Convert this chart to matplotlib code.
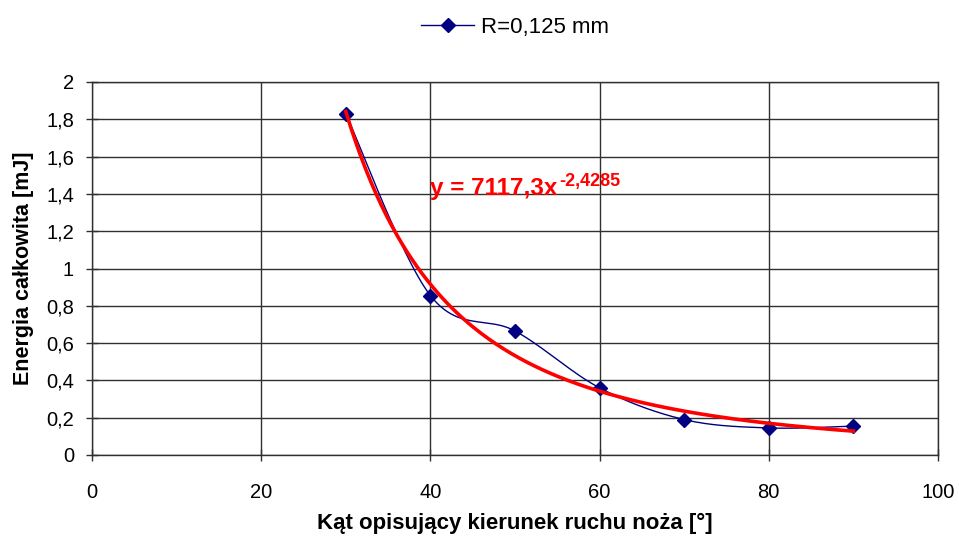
import numpy as np
import matplotlib
matplotlib.use('Agg')
import matplotlib.pyplot as plt

# measured points
angle = [30, 40, 50, 60, 70, 80, 90]
energy = [1.83, 0.855, 0.665, 0.36, 0.19, 0.145, 0.155]
series_label = 'R=0,125 mm'

# power trendline shown on the chart: y = a * x^b
fit_a = 7117.3
fit_b = -2.4285
fit_text = 'y = 7117,3x'
fit_exp = '-2,4285'

xticks = [0, 20, 40, 60, 80, 100]
yticks = [0, 0.2, 0.4, 0.6, 0.8, 1, 1.2, 1.4, 1.6, 1.8, 2]


def smooth_line(x, y, n=30, t=0.5):
	# excel-like smoothed line (catmull-rom through the points)
	x = np.asarray(x, float)
	y = np.asarray(y, float)
	px = np.concatenate([[x[0]], x, [x[-1]]])
	py = np.concatenate([[y[0]], y, [y[-1]]])
	xs = []
	ys = []
	for i in range(1, len(px) - 2):
		p0 = np.array([px[i-1], py[i-1]])
		p1 = np.array([px[i], py[i]])
		p2 = np.array([px[i+1], py[i+1]])
		p3 = np.array([px[i+2], py[i+2]])
		c1 = p1 + (p2 - p0) * t / 3.0
		c2 = p2 - (p3 - p1) * t / 3.0
		s = np.linspace(0, 1, n)[:, None]
		b = (1-s)**3*p1 + 3*(1-s)**2*s*c1 + 3*(1-s)*s**2*c2 + s**3*p2
		xs.extend(b[:, 0])
		ys.extend(b[:, 1])
	return np.array(xs), np.array(ys)


plt.rcParams['font.family'] = ['Liberation Sans', 'DejaVu Sans']

fig = plt.figure(figsize=(9.59, 5.4), dpi=100)
ax = fig.add_axes([92/959, 1-455/540, (938-92)/959, (455-82)/540])

sx, sy = smooth_line(angle, energy)
ax.plot(sx, sy, color='#000080', lw=1, zorder=3)
ax.plot(angle, energy, linestyle='none', marker='D', ms=7, color='#000080', zorder=4)
line_handle, = ax.plot([], [], color='#000080', lw=1, marker='D', ms=7)

fx = np.linspace(angle[0], angle[-1], 200)
ax.plot(fx, fit_a * fx**fit_b, color='red', lw=2.6, zorder=5)

eq = ax.text(40.0, 1.43, fit_text, color='red', fontsize=17.5, fontweight='bold',
	va='center', ha='left', zorder=6)
ax.annotate(fit_exp, xy=(1, 1), xycoords=eq, xytext=(1, 3), textcoords='offset points',
	color='red', fontsize=13, fontweight='bold', va='top', ha='left', zorder=6)

ax.set_xlim(0, 100)
ax.set_ylim(0, 2)
ax.set_xticks(xticks)
ax.set_yticks(yticks)
ax.set_xticklabels([str(v) for v in xticks])
ax.set_yticklabels([('%g' % v).replace('.', ',') for v in yticks])
ax.tick_params(direction='inout', length=8, width=1, color='#303030', labelsize=14.5)
ax.tick_params(axis='x', pad=16)
ax.tick_params(axis='y', pad=9)
ax.grid(True, color='#303030', lw=1)
ax.set_axisbelow(True)
for s in ax.spines.values():
	s.set_color('#303030')
	s.set_linewidth(1)

ax.set_xlabel('Kąt opisujący kierunek ruchu noża [°]', fontsize=16, fontweight='bold', labelpad=8)
ax.set_ylabel('Energia całkowita [mJ]', fontsize=15.5, fontweight='bold', labelpad=9)

fig.legend([line_handle], [series_label], loc='center', bbox_to_anchor=(515/959, 1-27/540),
	frameon=False, fontsize=16, handlelength=2.4, handletextpad=0.3)

fig.savefig('out.png', dpi=100)
